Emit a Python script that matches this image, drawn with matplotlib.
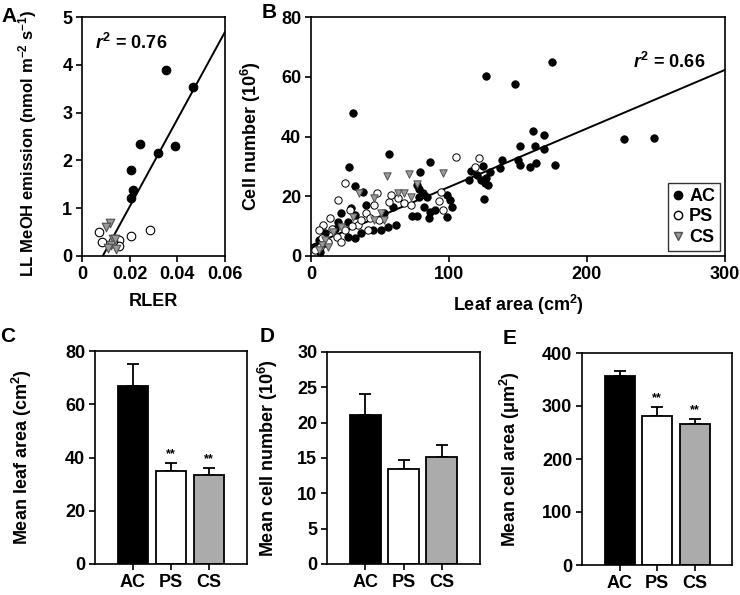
import matplotlib
matplotlib.use("Agg")
import matplotlib.pyplot as plt
import numpy as np
from matplotlib.lines import Line2D

plt.rcParams['font.family'] = ['Liberation Sans', 'DejaVu Sans']
plt.rcParams['font.weight'] = 'bold'
plt.rcParams['axes.labelweight'] = 'bold'
plt.rcParams['mathtext.fontset'] = 'custom'
plt.rcParams['mathtext.rm'] = 'Liberation Sans:bold'
plt.rcParams['mathtext.bf'] = 'Liberation Sans:bold'
plt.rcParams['mathtext.it'] = 'Liberation Sans:bold:italic'
plt.rcParams['mathtext.default'] = 'bf'

# ---------------- Panel A data ----------------
A_ac_x = [0.0352, 0.0467, 0.0243, 0.0390, 0.0320, 0.0204, 0.0213, 0.0204]
A_ac_y = [3.89, 3.53, 2.34, 2.30, 2.15, 1.79, 1.39, 1.21]
A_ps_x = [0.0071, 0.0085, 0.0154, 0.0155, 0.0207, 0.0287, 0.0130]
A_ps_y = [0.50, 0.30, 0.33, 0.20, 0.42, 0.54, 0.31]
A_cs_x = [0.0117, 0.0100, 0.0130, 0.0120, 0.0108, 0.0144, 0.0140]
A_cs_y = [0.69, 0.60, 0.35, 0.24, 0.17, 0.14, 0.35]
A_slope, A_intercept = 91.4, -0.795
A_r2 = "0.76"

# ---------------- Panel B data ----------------
B_ac_x = [56.7, 27.2, 86.0, 79.1, 31.7, 37.6, 76.5, 78.2, 81.3, 29.3, 40.0, 31.7,
          26.9, 19.8, 17.4, 10.2, 5.5, 3.1, 6.6, 50.8, 55.5, 61.5, 72.9, 76.5,
          59.1, 53.1, 31.7, 26.9, 36.4, 44.8, 22.1, 10.2,
          84.2, 78.2, 81.8, 86.5, 90.1, 100.9, 98.5, 102.0, 85.4, 98.5,
          116.3, 124.7, 114.7, 123.5, 125.9, 128.3, 125.2, 136.6, 138.5, 149.7,
          151.4, 158.8, 163.3, 151.6, 162.1, 169.0, 160.9, 169.0, 177.1,
          174.5, 126.8, 148.1, 226.7, 248.6, 30.5, 120.0, 127.0, 130.0]
B_ac_y = [34.3, 29.9, 31.5, 28.0, 23.4, 21.5, 23.7, 22.3, 21.2, 15.9, 17.0, 13.7,
          11.5, 11.5, 9.2, 7.6, 5.4, 3.1, 1.4, 8.7, 9.8, 10.4, 13.4, 13.4,
          16.5, 14.3, 5.9, 6.5, 7.6, 8.7, 14.3, 4.2,
          19.8, 19.8, 16.5, 14.8, 15.4, 18.7, 20.4, 16.5, 12.6, 12.9,
          28.4, 30.2, 25.4, 25.4, 24.3, 23.7, 19.1, 29.3, 32.3, 32.1,
          30.3, 29.9, 31.2, 36.8, 36.9, 40.4, 41.9, 35.8, 30.4,
          65.0, 60.4, 57.6, 39.0, 39.4, 47.7, 27.0, 26.0, 28.0]
B_ps_x = [24.8, 19.8, 47.9, 13.8, 9.0, 5.5, 28.1, 40.0, 42.4, 34.1, 41.2, 24.5,
          18.6, 36.4, 49.6, 56.7, 62.7, 67.4, 72.2, 6.6, 12.6, 22.1, 57.9,
          104.9, 121.4, 119.2, 94.2, 93.0, 95.4, 3.0, 8.0, 15.0, 30.0, 46.0]
B_ps_y = [24.6, 18.7, 21.0, 12.6, 10.4, 8.7, 15.4, 14.3, 12.6, 10.4, 8.7, 8.7,
          6.5, 12.0, 12.0, 18.2, 19.3, 17.6, 17.0, 3.1, 4.8, 4.8, 20.4,
          33.2, 32.8, 29.9, 21.5, 18.4, 15.4, 2.0, 6.0, 9.0, 10.0, 17.0]
B_cs_x = [55.0, 71.0, 34.8, 46.0, 62.7, 67.4, 77.0, 30.5, 46.0, 50.8, 53.1, 22.1,
          16.2, 10.2, 7.8, 12.6, 5.5, 72.2, 95.8]
B_cs_y = [26.8, 27.3, 21.0, 19.3, 21.0, 21.2, 24.0, 13.2, 12.0, 14.3, 12.0, 9.8,
          8.1, 5.3, 3.7, 3.1, 2.0, 19.8, 27.9]
B_slope, B_intercept = 0.196, 3.5
B_r2 = "0.66"

# ---------------- Bar panels ----------------
groups = ["AC", "PS", "CS"]
C_mean = [67.0, 35.0, 33.5]
C_err = [8.0, 3.0, 2.7]
C_sig = ["", "**", "**"]
D_mean = [21.1, 13.5, 15.1]
D_err = [2.9, 1.2, 1.8]
D_sig = ["", "", ""]
E_mean = [357.0, 281.0, 266.0]
E_err = [9.0, 17.0, 9.0]
E_sig = ["", "**", "**"]

bar_colors = ["black", "white", "#ababab"]
cs_face = "#9a9a9a"
cs_edge = "#505050"

W, H = 740, 595
fig = plt.figure(figsize=(W / 100, H / 100), dpi=100)


def px_axes(l, r, t, b):
    return fig.add_axes([l / W, (H - b) / H, (r - l) / W, (b - t) / H])


FS = 13
LW = 1.2


def style(ax):
    for s in ax.spines.values():
        s.set_linewidth(LW)
    ax.tick_params(direction='out', length=4, width=LW, labelsize=FS, pad=3)
    for lab in ax.get_xticklabels() + ax.get_yticklabels():
        lab.set_fontweight('bold')


# Panel A
axA = px_axes(82, 225, 17, 256)
axA.scatter(A_ac_x, A_ac_y, s=38, c='black', edgecolors='black', linewidths=0.8, zorder=3)
axA.scatter(A_ps_x, A_ps_y, s=38, c='white', edgecolors='black', linewidths=0.8, zorder=3)
axA.scatter(A_cs_x, A_cs_y, s=38, marker='v', c=cs_face, edgecolors=cs_edge, linewidths=0.8, zorder=3)
xa = np.array([-A_intercept / A_slope, 0.06])
axA.plot(xa, A_slope * xa + A_intercept, color='black', lw=1.4, zorder=2)
axA.set_xlim(0, 0.06)
axA.set_ylim(0, 5)
axA.set_xticks([0, 0.02, 0.04, 0.06])
axA.set_xticklabels(["0", "0.02", "0.04", "0.06"])
axA.set_yticks([0, 1, 2, 3, 4, 5])
axA.set_xlabel("RLER", fontsize=FS, fontweight='bold')
axA.set_ylabel("LL MeOH emission (nmol m$^{-2}$ s$^{-1}$)", fontsize=12, fontweight='bold')
axA.yaxis.set_label_coords(-0.30, 0.47)
axA.xaxis.set_label_coords(0.5, -0.155)
axA.text(0.0055, 4.45, r"$\mathit{r}^{2}$ = " + A_r2, fontsize=FS, fontweight='bold', va='center')
style(axA)

# Panel B
axB = px_axes(311, 725, 17, 256)
axB.scatter(B_ac_x, B_ac_y, s=28, c='black', edgecolors='black', linewidths=0.7, zorder=3, label='AC')
axB.scatter(B_ps_x, B_ps_y, s=28, c='white', edgecolors='black', linewidths=0.7, zorder=3, label='PS')
axB.scatter(B_cs_x, B_cs_y, s=28, marker='v', c=cs_face, edgecolors=cs_edge, linewidths=0.7, zorder=3, label='CS')
xb = np.array([0, 300])
axB.plot(xb, B_slope * xb + B_intercept, color='black', lw=1.4, zorder=2)
axB.set_xlim(0, 300)
axB.set_ylim(0, 80)
axB.set_xticks([0, 100, 200, 300])
axB.set_yticks([0, 20, 40, 60, 80])
axB.set_xlabel("Leaf area (cm$^{2}$)", fontsize=FS, fontweight='bold')
axB.set_ylabel("Cell number (10$^{6}$)", fontsize=FS, fontweight='bold')
axB.yaxis.set_label_coords(-0.115, 0.5)
axB.xaxis.set_label_coords(0.5, -0.155)
axB.text(233, 65, r"$\mathit{r}^{2}$ = " + B_r2, fontsize=FS, fontweight='bold', va='center')
handles = [Line2D([], [], ls='', marker='o', ms=6, mfc='black', mec='black'),
           Line2D([], [], ls='', marker='o', ms=6, mfc='white', mec='black'),
           Line2D([], [], ls='', marker='v', ms=6, mfc=cs_face, mec=cs_edge)]
leg = axB.legend(handles, groups, loc='lower right', frameon=True, fancybox=False,
                 edgecolor='black', handlelength=0.6, handletextpad=0.3,
                 borderpad=0.25, labelspacing=0.2, borderaxespad=0.3,
                 prop={'weight': 'bold', 'size': FS})
leg.get_frame().set_linewidth(1.0)
style(axB)


def bar_panel(ax, means, errs, sigs, ylim, yticks, ylabel, label_x, star_off):
    x = np.arange(len(groups))
    ax.bar(x, means, width=0.8, color=bar_colors, edgecolor='black', linewidth=1.3, zorder=2)
    ax.errorbar(x, means, yerr=[np.zeros(len(errs)), errs], fmt='none', ecolor='black',
                elinewidth=1.3, capsize=4.5, capthick=1.3, zorder=1)
    for xi, m, e, s in zip(x, means, errs, sigs):
        if s:
            ax.text(xi, m + e + star_off, s, ha='center', va='bottom', fontsize=9, fontweight='bold')
    ax.set_xlim(-1, 3)
    ax.set_ylim(*ylim)
    ax.set_yticks(yticks)
    ax.set_xticks(x)
    ax.set_xticklabels(groups)
    ax.set_ylabel(ylabel, fontsize=FS, fontweight='bold')
    ax.yaxis.set_label_coords(label_x, 0.5)
    style(ax)


axC = px_axes(95, 247, 351, 564)
bar_panel(axC, C_mean, C_err, C_sig, (0, 80), [0, 20, 40, 60, 80],
          "Mean leaf area (cm$^{2}$)", -0.40, 1.0)
axD = px_axes(327, 480, 352, 564)
bar_panel(axD, D_mean, D_err, D_sig, (0, 30), [0, 5, 10, 15, 20, 25, 30],
          "Mean cell number (10$^{6}$)", -0.31, 0.5)
axE = px_axes(582, 732, 353, 565)
bar_panel(axE, E_mean, E_err, E_sig, (0, 400), [0, 100, 200, 300, 400],
          "Mean cell area (\u03bcm$^{2}$)", -0.40, 6)

# Panel letters
for letter, (px, py) in {"A": (9, 16), "B": (269, 13), "C": (8, 337),
                         "D": (267, 337), "E": (510, 339)}.items():
    fig.text(px / W, 1 - py / H, letter, fontsize=15, fontweight='bold', ha='center', va='center')

fig.savefig("out.png", dpi=100)
